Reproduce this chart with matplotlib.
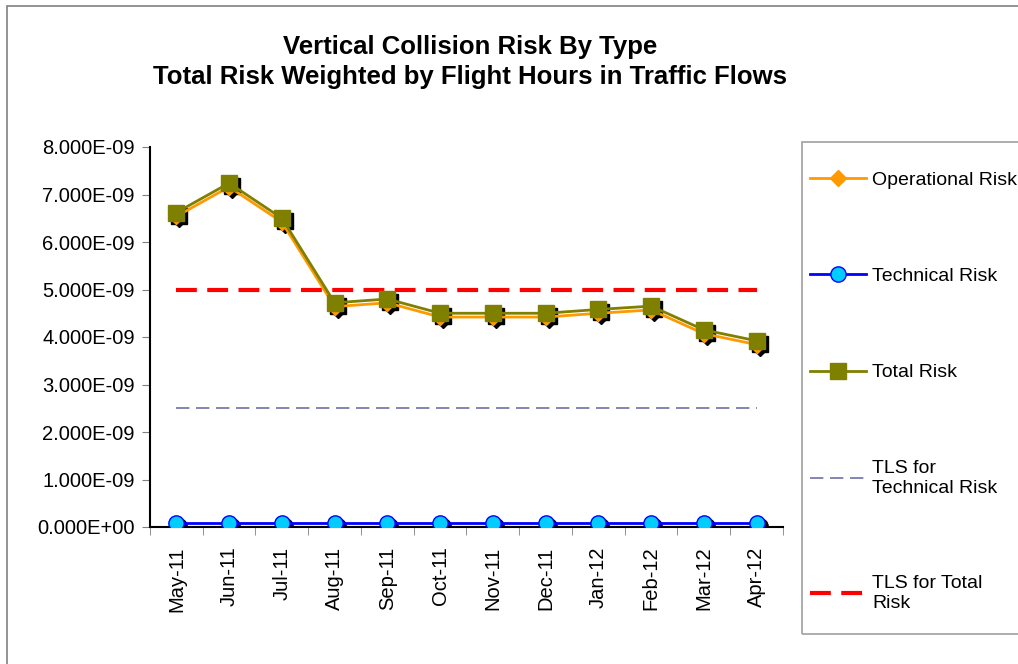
import matplotlib
matplotlib.use('Agg')
import matplotlib.pyplot as plt
from matplotlib import transforms
from matplotlib.patches import Rectangle
from matplotlib.ticker import FuncFormatter, FixedLocator

plt.rcParams['font.family'] = ['Liberation Sans', 'DejaVu Sans']

# data (risk values, x 1e-9)
months = ['May-11', 'Jun-11', 'Jul-11', 'Aug-11', 'Sep-11', 'Oct-11',
          'Nov-11', 'Dec-11', 'Jan-12', 'Feb-12', 'Mar-12', 'Apr-12']
operational = [6.54, 7.16, 6.42, 4.64, 4.72, 4.42, 4.42, 4.42, 4.50, 4.57, 4.07, 3.84]
technical = [0.08] * 12
total = [6.62, 7.24, 6.50, 4.72, 4.80, 4.50, 4.50, 4.50, 4.58, 4.65, 4.15, 3.92]
tls_technical = 2.5
tls_total = 5.0

scale = 1e-9
operational = [v * scale for v in operational]
technical = [v * scale for v in technical]
total = [v * scale for v in total]

W, H = 1018, 664
fig = plt.figure(figsize=(W / 100, H / 100), dpi=100)
ax = fig.add_axes([150 / W, 1 - 527 / H, (783 - 150) / W, (527 - 147) / H])

x = list(range(len(months)))

# black drop shadows behind the markers
shadow = transforms.offset_copy(ax.transData, fig=fig, x=3, y=-3, units='dots')
ax.plot(x, operational, linestyle='none', marker='D', markersize=8, color='black', transform=shadow, zorder=2)
ax.plot(x, technical, linestyle='none', marker='o', markersize=11, color='black', transform=shadow, zorder=2)
ax.plot(x, total, linestyle='none', marker='s', markersize=11, color='black', transform=shadow, zorder=2)

ax.plot(x, [tls_technical * scale] * len(x), color='#6f6fa8', linestyle=(0, (8, 4)), linewidth=1.2,
        label='TLS for\nTechnical Risk', zorder=1)
ax.plot(x, [tls_total * scale] * len(x), color='#ff0000', linestyle=(0, (5, 2.5)), linewidth=3,
        label='TLS for Total\nRisk', zorder=1)
ax.plot(x, operational, color='#ff9900', linewidth=2, marker='D', markersize=8,
        markerfacecolor='#ff9900', markeredgecolor='#ff9900', label='Operational Risk', zorder=3)
ax.plot(x, technical, color='#0000ff', linewidth=2, marker='o', markersize=11,
        markerfacecolor='#00ccff', markeredgecolor='#0000ff', label='Technical Risk', zorder=3)
ax.plot(x, total, color='#808000', linewidth=2, marker='s', markersize=11,
        markerfacecolor='#808000', markeredgecolor='#808000', label='Total Risk', zorder=4)

ax.set_xlim(-0.5, len(months) - 0.5)
ax.set_ylim(0, 8e-9)
ax.set_yticks([i * 1e-9 for i in range(9)])
ax.yaxis.set_major_formatter(FuncFormatter(lambda v, p: f'{v:.3E}'))
ax.set_xticks(x)
ax.set_xticklabels(months, rotation=90)
ax.xaxis.set_minor_locator(FixedLocator([i - 0.5 for i in range(len(months) + 1)]))
ax.tick_params(axis='x', which='major', length=0, pad=14, labelsize=14.5)
ax.tick_params(axis='x', which='minor', length=6, color='#808080')
ax.tick_params(axis='y', length=6, color='#808080', labelsize=14.5, pad=5)
for s in ['top', 'right']:
    ax.spines[s].set_visible(False)
ax.spines['left'].set_linewidth(1.5)
ax.spines['bottom'].set_linewidth(1.5)

fig.text(470 / W, 1 - 62 / H,
         'Vertical Collision Risk By Type\nTotal Risk Weighted by Flight Hours in Traffic Flows',
         ha='center', va='center', fontsize=18.5, fontweight='bold', linespacing=1.3)

# legend: frame drawn separately, entries placed inside it
handles, labels = ax.get_legend_handles_labels()
order = [2, 3, 4, 0, 1]
leg = fig.legend([handles[i] for i in order], [labels[i] for i in order],
                 loc='upper left', bbox_to_anchor=(810 / W, 1 - 171 / H),
                 fontsize=14, frameon=False, labelspacing=4.05, handlelength=2.9,
                 handletextpad=0.3, borderpad=0, borderaxespad=0)
for t in leg.get_texts():
    t.set_linespacing(1.2)

fig.patches.append(Rectangle((802 / W, 1 - 634 / H), 0.5, (634 - 142) / H, transform=fig.transFigure,
                             fill=False, edgecolor='#a0a0a0', linewidth=1.2))
fig.patches.append(Rectangle((7 / W, -0.1), 1.2, 1.1 - 6 / H, transform=fig.transFigure,
                             fill=False, edgecolor='#808080', linewidth=1.2))

fig.savefig('out.png', dpi=100)
